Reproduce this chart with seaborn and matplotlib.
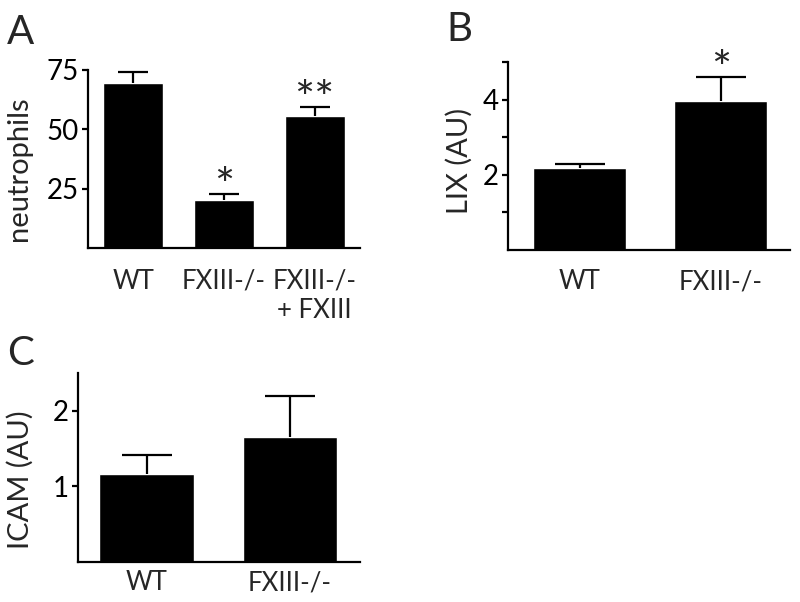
import numpy as np
import pandas as pd
import matplotlib.pyplot as plt
import seaborn as sns

# panel A - neutrophils
a_groups = ['WT', 'FXIII-/-', 'FXIII-/-\n+ FXIII']
a_mean = [69.6, 20.3, 55.6]
a_sem = [4.7, 2.3, 3.8]
a_ticks = [25, 50, 75]

# panel B - LIX
b_groups = ['WT', 'FXIII-/-']
b_mean = [2.17, 3.97]
b_sem = [0.12, 0.64]
b_ticks = [1, 2, 3, 4, 5]
b_ticklabels = ['', '2', '', '4', '']

# panel C - ICAM
c_groups = ['WT', 'FXIII-/-']
c_mean = [1.165, 1.65]
c_sem = [0.25, 0.54]
c_ticks = [1, 2]

sns.set_style('ticks')
plt.rcParams['font.family'] = ['Lato', 'DejaVu Sans']
plt.rcParams['axes.linewidth'] = 1.6
plt.rcParams['ytick.major.width'] = 1.6
plt.rcParams['ytick.major.size'] = 4.5
plt.rcParams['ytick.color'] = 'black'
plt.rcParams['axes.edgecolor'] = 'black'

fig = plt.figure(figsize=(8, 6.02), dpi=100)

W, H = 800, 602


def px_axes(left, right, bottom, top):
    return fig.add_axes([left / W, 1 - bottom / H, (right - left) / W, (bottom - top) / H])


def panel(ax, groups, means, sems, capsize, ylim, xlim, ticks, ticklabels, ylabel,
          label_xy, xpad, stars=None):
    df = pd.DataFrame({'group': groups, 'value': means})
    sns.barplot(data=df, x='group', y='value', ax=ax, color='black', saturation=1,
                width=0.66, errorbar=None, order=groups)
    x = np.arange(len(groups))
    _, caps, _ = ax.errorbar(x, means, yerr=[np.zeros(len(sems)), sems], fmt='none',
                             ecolor='black', elinewidth=1.6, capsize=capsize,
                             capthick=1.6)
    caps[0].set_visible(False)  # only the upper cap
    if stars:
        for i, s in stars.items():
            ax.annotate(s, (x[i], means[i] + sems[i]), xytext=(0, -5),
                        textcoords='offset points', ha='center', va='baseline',
                        fontsize=34)
    ax.set_ylim(*ylim)
    ax.set_xlim(*xlim)
    ax.set_yticks(ticks)
    ax.set_yticklabels(ticklabels, fontsize=20)
    ax.tick_params(axis='y', pad=2)
    ax.tick_params(axis='x', length=0, labelsize=18.5, pad=xpad)
    ax.set_xlabel('')
    ax.set_ylabel(ylabel, fontsize=21)
    ax.yaxis.set_label_coords(*label_xy)
    sns.despine(ax=ax)


ax1 = px_axes(88, 360, 248, 70)
panel(ax1, a_groups, a_mean, a_sem, 11, (0, 75), (-0.5, 2.5), a_ticks,
      [str(t) for t in a_ticks], 'neutrophils', (-0.205, 0.444), 15,
      stars={1: '*', 2: '**'})

ax2 = px_axes(508, 790, 250, 62)
panel(ax2, b_groups, b_mean, b_sem, 18, (0, 5), (-0.51, 1.49), b_ticks,
      b_ticklabels, 'LIX (AU)', (-0.125, 0.473), 14, stars={1: '*'})

ax3 = px_axes(78, 360, 562, 373)
panel(ax3, c_groups, c_mean, c_sem, 18, (0, 2.5), (-0.48, 1.49), c_ticks,
      [str(t) for t in c_ticks], 'ICAM (AU)', (-0.156, 0.434), 6)

fig.text(7 / W, 1 - 14 / H, 'A', fontsize=29, va='top', ha='left')
fig.text(446 / W, 1 - 11 / H, 'B', fontsize=29, va='top', ha='left')
fig.text(7 / W, 1 - 335 / H, 'C', fontsize=29, va='top', ha='left')

fig.savefig('out.png', dpi=100)
